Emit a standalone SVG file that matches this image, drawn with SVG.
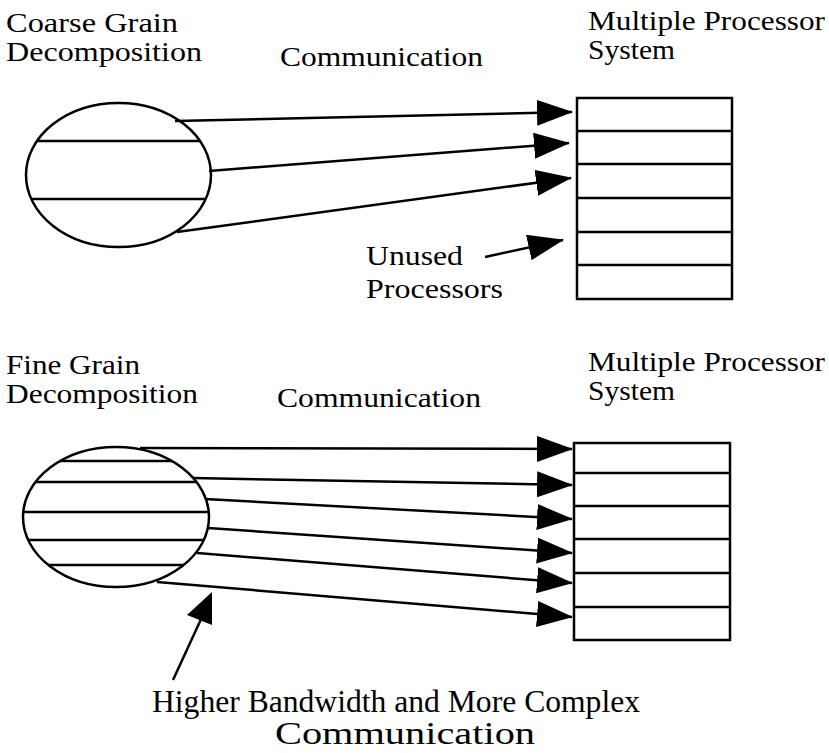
<svg xmlns="http://www.w3.org/2000/svg" width="829" height="753" viewBox="0 0 829 753">
<style>
.s{fill:none;stroke:#000;stroke-width:2.5}
.l{stroke:#000;stroke-width:2.5;fill:none}
.c{stroke:#000;stroke-width:2.5;fill:none;marker-end:url(#ah)}
.t{font-family:"Liberation Serif","Times New Roman",serif;font-size:27px;fill:#000}
.cap{font-family:"Liberation Serif","Times New Roman",serif;font-size:31px;fill:#000}
</style>
<defs>
<marker id="ah" viewBox="0 0 36 26" refX="35" refY="13" markerWidth="36" markerHeight="26" markerUnits="userSpaceOnUse" orient="auto">
<path d="M0,0 L36,13 L0,26 Z" fill="#000"/>
</marker>
</defs>
<rect width="829" height="753" fill="#fff"/>

<g id="labels-top">
<text class="t" x="6" y="32" textLength="172" lengthAdjust="spacingAndGlyphs">Coarse Grain</text>
<text class="t" x="6" y="61" textLength="196" lengthAdjust="spacingAndGlyphs">Decomposition</text>
<text class="t" x="280" y="66" textLength="203" lengthAdjust="spacingAndGlyphs">Communication</text>
<text class="t" x="588" y="30" textLength="237" lengthAdjust="spacingAndGlyphs">Multiple Processor</text>
<text class="t" x="588" y="59" textLength="87" lengthAdjust="spacingAndGlyphs">System</text>
<text class="t" x="366" y="265" textLength="97" lengthAdjust="spacingAndGlyphs">Unused</text>
<text class="t" x="366" y="298" textLength="137" lengthAdjust="spacingAndGlyphs">Processors</text>
</g>

<g id="coarse-decomposition">
<ellipse class="s" cx="118.5" cy="175" rx="92.5" ry="72"/>
<line class="l" x1="37" y1="141" x2="200" y2="141"/>
<line class="l" x1="32" y1="199" x2="206" y2="199"/>
</g>

<g id="processors-top">
<rect class="s" x="577" y="98" width="155" height="201"/>
<line class="l" x1="577" y1="131" x2="732" y2="131"/>
<line class="l" x1="577" y1="164" x2="732" y2="164"/>
<line class="l" x1="577" y1="198" x2="732" y2="198"/>
<line class="l" x1="577" y1="232" x2="732" y2="232"/>
<line class="l" x1="577" y1="265" x2="732" y2="265"/>
</g>

<g id="connectors-top">
<line class="c" x1="175" y1="121" x2="572" y2="112"/>
<line class="c" x1="209" y1="171" x2="569" y2="143"/>
<line class="c" x1="177" y1="232" x2="571" y2="178"/>
<line class="c" x1="485" y1="257" x2="563" y2="240"/>
</g>

<g id="labels-bottom">
<text class="t" x="6" y="374" textLength="134" lengthAdjust="spacingAndGlyphs">Fine Grain</text>
<text class="t" x="6" y="403" textLength="192" lengthAdjust="spacingAndGlyphs">Decomposition</text>
<text class="t" x="277" y="407" textLength="204" lengthAdjust="spacingAndGlyphs">Communication</text>
<text class="t" x="588" y="371" textLength="237" lengthAdjust="spacingAndGlyphs">Multiple Processor</text>
<text class="t" x="588" y="400" textLength="87" lengthAdjust="spacingAndGlyphs">System</text>
</g>

<g id="fine-decomposition">
<ellipse class="s" cx="116" cy="517" rx="93" ry="70"/>
<line class="l" x1="60" y1="461" x2="172" y2="461"/>
<line class="l" x1="36" y1="482" x2="196" y2="482"/>
<line class="l" x1="23" y1="512" x2="209" y2="512"/>
<line class="l" x1="28" y1="540" x2="204" y2="540"/>
<line class="l" x1="48" y1="565" x2="184" y2="565"/>
</g>

<g id="processors-bottom">
<rect class="s" x="574" y="443" width="156" height="197"/>
<line class="l" x1="574" y1="473" x2="730" y2="473"/>
<line class="l" x1="574" y1="506" x2="730" y2="506"/>
<line class="l" x1="574" y1="539" x2="730" y2="539"/>
<line class="l" x1="574" y1="573" x2="730" y2="573"/>
<line class="l" x1="574" y1="607" x2="730" y2="607"/>
</g>

<g id="connectors-bottom">
<line class="c" x1="140" y1="448" x2="572" y2="449"/>
<line class="c" x1="193" y1="478" x2="572" y2="485"/>
<line class="c" x1="205" y1="499" x2="572" y2="519"/>
<line class="c" x1="208" y1="528" x2="572" y2="553"/>
<line class="c" x1="197" y1="553" x2="572" y2="583"/>
<line class="c" x1="157" y1="582" x2="572" y2="617"/>
<line class="l" x1="173" y1="680" x2="202" y2="617"/>
<polygon points="212,592 187,615 212,625" fill="#000"/>
</g>

<g id="caption">
<text class="cap" x="152" y="712" textLength="488" lengthAdjust="spacingAndGlyphs">Higher Bandwidth and More Complex</text>
<text class="cap" x="275" y="744" textLength="260" lengthAdjust="spacingAndGlyphs">Communication</text>
</g>
</svg>
